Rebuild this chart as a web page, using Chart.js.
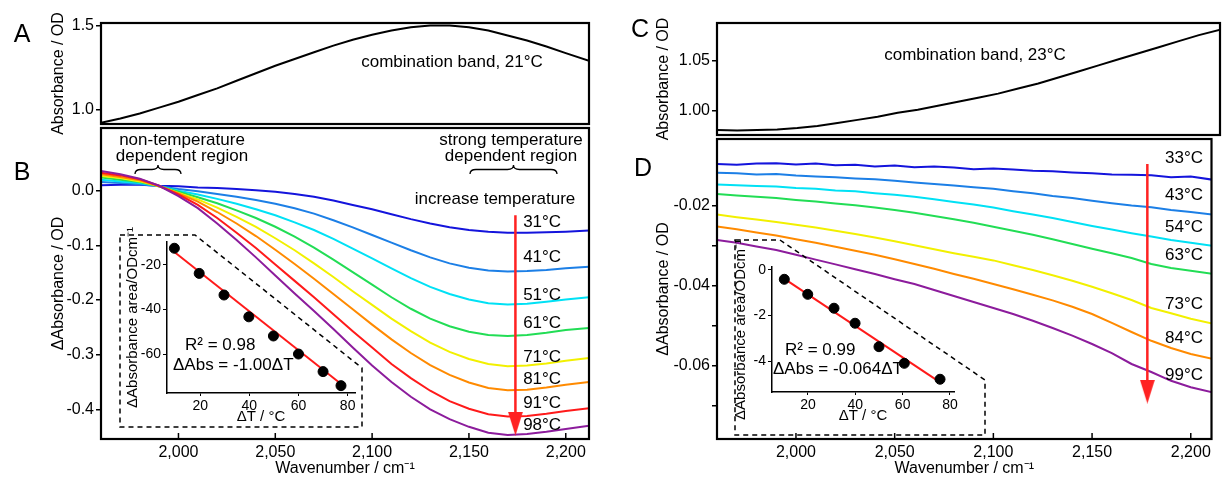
<!DOCTYPE html>
<html><head><meta charset="utf-8">
<script src="https://cdn.jsdelivr.net/npm/chart.js@4.4.1/dist/chart.umd.min.js"></script>
<style>
html,body{margin:0;padding:0;background:#fff;}
#wrap{position:relative;width:1224px;height:479px;overflow:hidden;background:#fff;}
#wrap canvas{position:absolute;left:0;top:0;}
</style></head><body><div id="wrap">
<canvas id="cA" width="1224" height="479"></canvas>
<canvas id="cB" width="1224" height="479"></canvas>
<canvas id="cC" width="1224" height="479"></canvas>
<canvas id="cD" width="1224" height="479"></canvas>
<canvas id="iB" width="1224" height="479"></canvas>
<canvas id="iD" width="1224" height="479"></canvas>
</div>
<script>
// ---------- data ----------
const wavenumber = [1960,1970,1980,1990,2000,2010,2020,2030,2040,2050,2060,2070,2080,2090,2100,2110,2120,2130,2140,2150,2160,2170,2180,2190,2200,2212];
const xTicks = [2000,2050,2100,2150,2200];

const absA_21C = [0.92,0.945,0.975,1.01,1.045,1.085,1.125,1.17,1.215,1.26,1.30,1.34,1.38,1.415,1.445,1.47,1.49,1.50,1.50,1.49,1.47,1.44,1.41,1.375,1.335,1.29];
const yTicksA = [1.0,1.5];

const tempsB = ['31°C','41°C','51°C','61°C','71°C','81°C','91°C','98°C'];
const dB31 = [0.010,0.011,0.011,0.009,0.008,0.006,0.005,0.003,0.001,-0.002,-0.006,-0.011,-0.018,-0.026,-0.034,-0.043,-0.052,-0.060,-0.067,-0.072,-0.075,-0.077,-0.077,-0.076,-0.075,-0.073];
const dB41 = [0.016,0.014,0.012,0.008,0.003,-0.001,-0.006,-0.011,-0.017,-0.024,-0.032,-0.042,-0.054,-0.067,-0.081,-0.095,-0.109,-0.122,-0.133,-0.141,-0.146,-0.148,-0.147,-0.145,-0.142,-0.139];
const dB51 = [0.020,0.017,0.014,0.008,0.000,-0.007,-0.015,-0.024,-0.034,-0.045,-0.058,-0.072,-0.088,-0.106,-0.124,-0.142,-0.160,-0.176,-0.189,-0.199,-0.206,-0.208,-0.207,-0.203,-0.199,-0.195];
const dB61 = [0.024,0.020,0.016,0.008,-0.002,-0.012,-0.023,-0.036,-0.050,-0.066,-0.084,-0.104,-0.126,-0.149,-0.172,-0.195,-0.216,-0.234,-0.248,-0.258,-0.264,-0.266,-0.264,-0.260,-0.255,-0.251];
const dB71 = [0.027,0.023,0.017,0.008,-0.004,-0.016,-0.031,-0.048,-0.066,-0.087,-0.109,-0.133,-0.158,-0.184,-0.209,-0.234,-0.257,-0.278,-0.295,-0.308,-0.317,-0.321,-0.320,-0.316,-0.311,-0.306];
const dB81 = [0.030,0.025,0.019,0.008,-0.005,-0.020,-0.039,-0.060,-0.083,-0.108,-0.134,-0.161,-0.189,-0.217,-0.245,-0.272,-0.297,-0.319,-0.337,-0.351,-0.361,-0.365,-0.364,-0.360,-0.355,-0.350];
const dB91 = [0.033,0.028,0.021,0.009,-0.007,-0.026,-0.050,-0.077,-0.105,-0.135,-0.165,-0.195,-0.226,-0.257,-0.287,-0.317,-0.343,-0.366,-0.385,-0.399,-0.409,-0.413,-0.412,-0.408,-0.403,-0.398];
const dB98 = [0.036,0.030,0.022,0.009,-0.010,-0.032,-0.060,-0.090,-0.122,-0.155,-0.188,-0.220,-0.253,-0.287,-0.320,-0.350,-0.377,-0.400,-0.418,-0.432,-0.443,-0.447,-0.445,-0.441,-0.436,-0.430];
const yTicksB = [-0.4,-0.3,-0.2,-0.1,0.0];
const labelYB = [-0.057,-0.121,-0.191,-0.242,-0.304,-0.345,-0.389,-0.429];

const absC_23C = [0.981,0.9805,0.981,0.9815,0.983,0.985,0.988,0.991,0.994,0.998,1.001,1.005,1.009,1.013,1.017,1.022,1.027,1.033,1.039,1.045,1.051,1.057,1.063,1.069,1.075,1.081];
const yTicksC = [1.00,1.05];

const tempsD = ['33°C','43°C','54°C','63°C','73°C','84°C','99°C'];
const dD33 = [-0.0095,-0.0097,-0.0094,-0.0093,-0.0096,-0.0094,-0.0098,-0.0097,-0.0101,-0.0099,-0.0103,-0.0101,-0.0104,-0.0108,-0.0106,-0.0109,-0.0112,-0.0113,-0.0116,-0.0118,-0.0121,-0.0122,-0.0123,-0.0128,-0.0126,-0.0135];
const dD43 = [-0.0117,-0.0118,-0.0121,-0.0120,-0.0124,-0.0126,-0.0128,-0.0131,-0.0133,-0.0137,-0.0141,-0.0145,-0.0149,-0.0153,-0.0157,-0.0163,-0.0168,-0.0175,-0.0180,-0.0187,-0.0193,-0.0199,-0.0203,-0.0210,-0.0215,-0.0222];
const dD54 = [-0.0146,-0.0148,-0.0150,-0.0151,-0.0155,-0.0157,-0.0161,-0.0163,-0.0168,-0.0172,-0.0177,-0.0183,-0.0190,-0.0196,-0.0204,-0.0213,-0.0221,-0.0230,-0.0240,-0.0250,-0.0259,-0.0268,-0.0276,-0.0285,-0.0292,-0.0300];
const dD63 = [-0.0170,-0.0174,-0.0177,-0.0180,-0.0185,-0.0189,-0.0194,-0.0198,-0.0204,-0.0210,-0.0217,-0.0225,-0.0233,-0.0242,-0.0252,-0.0262,-0.0272,-0.0283,-0.0295,-0.0307,-0.0318,-0.0330,-0.0345,-0.0355,-0.0362,-0.0370];
const dD73 = [-0.0221,-0.0228,-0.0234,-0.0240,-0.0247,-0.0254,-0.0262,-0.0270,-0.0279,-0.0288,-0.0298,-0.0308,-0.0318,-0.0327,-0.0336,-0.0348,-0.0360,-0.0373,-0.0387,-0.0402,-0.0418,-0.0435,-0.0455,-0.0468,-0.0482,-0.0495];
const dD84 = [-0.0251,-0.0258,-0.0266,-0.0274,-0.0283,-0.0292,-0.0302,-0.0312,-0.0322,-0.0333,-0.0345,-0.0357,-0.0370,-0.0382,-0.0395,-0.0408,-0.0422,-0.0436,-0.0452,-0.0470,-0.0492,-0.0515,-0.0537,-0.0555,-0.0570,-0.0583];
const dD99 = [-0.0285,-0.0292,-0.0301,-0.0310,-0.0322,-0.0334,-0.0346,-0.0358,-0.0370,-0.0383,-0.0395,-0.0410,-0.0425,-0.0440,-0.0455,-0.0470,-0.0487,-0.0505,-0.0524,-0.0545,-0.0568,-0.0595,-0.0615,-0.0637,-0.0653,-0.0667];
const yTicksD = [-0.07,-0.06,-0.05,-0.04,-0.03,-0.02];
const labelYD = [-0.0080,-0.01725,-0.02525,-0.03225,-0.0445,-0.0530,-0.06225];

const dT_B = [9.5,19.6,29.7,39.8,49.8,60.0,70.0,77.3];
const area_B = [-12.5,-23.8,-33.5,-43.3,-51.9,-60.0,-67.9,-74.2];
const fitB_dT = [8.6,78.5];
const fitB_area = [-13.4,-74.5];
const insetTicksB_x = [20,40,60,80];
const insetTicksB_y = [-60,-40,-20];

const dT_D = [10.0,19.9,31.0,39.9,50.0,60.7,75.8];
const area_D = [-0.41,-1.07,-1.68,-2.34,-3.37,-4.10,-4.80];
const fitD_dT = [9.6,76.5];
const fitD_area = [-0.36,-4.98];
const insetTicksD_x = [20,40,60,80];
const insetTicksD_y = [-4,-2,0];

// ---------- style ----------
const FONT = "'Liberation Sans', Arial, Helvetica, sans-serif";
Chart.defaults.font.family = FONT;
Chart.defaults.color = '#000';
const colB = ['#1414dc','#1c7fe6','#00e1f5','#22dd55','#f2f000','#ff8a00','#ff1a1a','#8c1c9c'];
const colD = ['#1414dc','#1c7fe6','#00e1f5','#22dd55','#f2f000','#ff8a00','#8c1c9c'];
const ARROW = '#ff2222';

// narrow arrowhead used as a point style (tip at bottom)
const head = document.createElement('canvas');
head.width = 15; head.height = 24;
(function(){ const g=head.getContext('2d'); g.fillStyle=ARROW; g.beginPath(); g.moveTo(0,0); g.lineTo(15,0); g.lineTo(7.5,24); g.closePath(); g.fill(); })();

const pts = (xs, ys) => ys.map((v,i)=>({x:xs[i], y:v}));
const fmtWn = v => String(v).replace(/(\d)(\d{3})$/,'$1,$2');

function framePlugin(inward){
  return {id:'frame', afterDraw(c){
    const a=c.chartArea, ctx=c.ctx; ctx.save();
    ctx.strokeStyle='#000'; ctx.lineWidth=2.2;
    ctx.strokeRect(a.left,a.top,a.right-a.left,a.bottom-a.top);
    if(inward){ const s=c.scales.x; ctx.lineWidth=1.5;
      s.ticks.forEach(t=>{const p=s.getPixelForValue(t.value); ctx.beginPath(); ctx.moveTo(p,a.bottom); ctx.lineTo(p,a.bottom-6); ctx.stroke();}); }
    ctx.restore();
  }};
}
function textPlugin(items, extra){
  return {id:'texts', afterDatasetsDraw(c){
    const ctx=c.ctx; ctx.save();
    items.forEach(it=>{
      let x=it.x, y=it.y;
      if(it.data){ x=c.scales.x.getPixelForValue(it.x); y=c.scales.y.getPixelForValue(it.y); }
      ctx.font=(it.size||16)+'px '+FONT; ctx.fillStyle=it.color||'#000';
      ctx.textAlign=it.align||'left'; ctx.textBaseline='middle';
      ctx.fillText(it.text,x,y);
    });
    if(extra) extra(ctx,c);
    ctx.restore();
  }};
}
function brace(ctx,x1,x2,yb,h){
  const m=(x1+x2)/2, q=Math.min(6,(x2-x1)/6), ym=yb-h*0.5;
  ctx.beginPath(); ctx.moveTo(x1,yb);
  ctx.quadraticCurveTo(x1,ym,x1+q,ym); ctx.lineTo(m-q,ym);
  ctx.quadraticCurveTo(m,ym,m,yb-h); ctx.quadraticCurveTo(m,ym,m+q,ym);
  ctx.lineTo(x2-q,ym); ctx.quadraticCurveTo(x2,ym,x2,yb); ctx.stroke();
}

function mainChart(id, o){
  return new Chart(document.getElementById(id), {
    type:'line',
    data:{datasets:o.datasets},
    options:{
      responsive:false, animation:false, devicePixelRatio:1,
      layout:{padding:o.padding},
      plugins:{legend:{display:false}, tooltip:{enabled:false}},
      elements:{point:{radius:0}, line:{tension:0}},
      scales:{
        x:{type:'linear', min:o.xMin, max:o.xMax, display:o.showX,
           afterBuildTicks:s=>{s.ticks=xTicks.map(v=>({value:v}));},
           afterFit:s=>{ if(o.showX) s.height=40; },
           grid:{display:false, drawTicks:false, tickLength:0}, border:{display:false},
           ticks:{font:{size:16}, padding:4, maxRotation:0, callback:fmtWn},
           title:{display:true, text:'Wavenumber / cm⁻¹', font:{size:16}, padding:{top:0,bottom:1}}},
        y:{type:'linear', min:o.yMin, max:o.yMax,
           afterBuildTicks:s=>{s.ticks=o.yTicks.map(v=>({value:v}));},
           afterFit:s=>{s.width=o.yWidth;},
           grid:{drawOnChartArea:false, drawTicks:true, tickLength:5, color:'#000', lineWidth:1.5},
           border:{display:false},
           ticks:{font:{size:16}, padding:2, callback:o.yFmt},
           title:{display:true, text:o.yTitle, font:{size:16}, padding:{top:0,bottom:0}}}
      }
    },
    plugins:[framePlugin(o.showX), textPlugin(o.texts||[], o.extra)]
  });
}

// ---------- Panel A ----------
mainChart('cA', {
  datasets:[{data:pts(wavenumber,absA_21C), borderColor:'#000', borderWidth:2, pointRadius:0}],
  xMin:1960, xMax:2212, yMin:0.912, yMax:1.515, yTicks:yTicksA, yFmt:v=>v.toFixed(1),
  yTitle:'Absorbance / OD', yWidth:52, showX:false,
  padding:{left:49, right:635, top:23, bottom:355},
  texts:[{text:'A', x:22, y:35, size:25, align:'center'},
         {text:'combination band, 21°C', x:452, y:62, size:17, align:'center'}]
});

// ---------- Panel B ----------
const seriesB = [dB31,dB41,dB51,dB61,dB71,dB81,dB91,dB98];
const dsB = seriesB.map((s,i)=>({data:pts(wavenumber,s), borderColor:colB[i], borderWidth:2, pointRadius:0, order:seriesB.length-i}));
dsB.push({data:[{x:2174,y:-0.045},{x:2174,y:-0.426}], borderColor:ARROW, borderWidth:2.5,
  pointRadius:[0,10], pointStyle:[false, head], order:-1});
mainChart('cB', {
  datasets:dsB,
  xMin:1960, xMax:2212, yMin:-0.4543, yMax:0.1147, yTicks:yTicksB, yFmt:v=>v.toFixed(1),
  yTitle:'ΔAbsorbance / OD', yWidth:52, showX:true,
  padding:{left:49, right:635, top:128, bottom:0},
  texts:[{text:'B', x:22, y:173, size:25, align:'center'},
         {text:'non-temperature', x:182, y:140, size:17, align:'center'},
         {text:'dependent region', x:182, y:156, size:17, align:'center'},
         {text:'strong temperature', x:511, y:140, size:17, align:'center'},
         {text:'dependent region', x:511, y:156, size:17, align:'center'},
         {text:'increase temperature', x:495, y:199, size:17, align:'center'}
        ].concat(tempsB.map((t,i)=>({text:t, data:true, x:2178, y:labelYB[i], size:17}))),
  extra:(ctx)=>{ ctx.strokeStyle='#000'; ctx.lineWidth=1.3; brace(ctx,135,181,174,9); brace(ctx,470,557,174,9); }
});

// ---------- Panel C ----------
mainChart('cC', {
  datasets:[{data:pts(wavenumber,absC_23C), borderColor:'#000', borderWidth:2, pointRadius:0}],
  xMin:1960, xMax:2210.5, yMin:0.976, yMax:1.087, yTicks:yTicksC, yFmt:v=>v.toFixed(2),
  yTitle:'Absorbance / OD', yWidth:63, showX:false,
  padding:{left:654, right:4, top:23, bottom:344},
  texts:[{text:'C', x:640, y:30, size:25, align:'center'},
         {text:'combination band, 23°C', x:975, y:55, size:17, align:'center'}]
});

// ---------- Panel D ----------
const seriesD = [dD33,dD43,dD54,dD63,dD73,dD84,dD99];
const dsD = seriesD.map((s,i)=>({data:pts(wavenumber,s), borderColor:colD[i], borderWidth:2, pointRadius:0, order:seriesD.length-i}));
dsD.push({data:[{x:2178,y:-0.0095},{x:2178,y:-0.0664}], borderColor:ARROW, borderWidth:2.5,
  pointRadius:[0,10], pointStyle:[false, head], order:-1});
mainChart('cD', {
  datasets:dsD,
  xMin:1960, xMax:2210.5, yMin:-0.07825, yMax:-0.00325, yTicks:yTicksD,
  yFmt:v=>(Math.round(v*100)%2===0 ? v.toFixed(2) : ''),
  yTitle:'ΔAbsorbance / OD', yWidth:63, showX:true,
  padding:{left:654, right:4, top:139, bottom:0},
  texts:[{text:'D', x:643, y:169, size:25, align:'center'}]
        .concat(tempsD.map((t,i)=>({text:t, data:true, x:2187, y:labelYD[i], size:17})))
});

// ---------- Insets ----------
function insetChart(id, o){
  return new Chart(document.getElementById(id), {
    type:'line',
    data:{datasets:[
      {data:pts(o.px,o.py), showLine:false, pointRadius:5, pointBackgroundColor:'#000', pointBorderColor:'#000', borderColor:'#000'},
      {data:pts(o.lx,o.ly), borderColor:'#ff1a1a', borderWidth:2, pointRadius:0}
    ]},
    options:{
      responsive:false, animation:false, devicePixelRatio:1,
      layout:{padding:o.padding},
      plugins:{legend:{display:false}, tooltip:{enabled:false}},
      scales:{
        x:{type:'linear', min:o.xMin, max:o.xMax,
           afterBuildTicks:s=>{s.ticks=o.xTicks.map(v=>({value:v}));},
           afterFit:s=>{s.height=33;},
           grid:{drawOnChartArea:false, drawTicks:true, tickLength:3, color:'#000', lineWidth:1},
           border:{display:true, color:'#000', width:1.5},
           ticks:{font:{size:14}, padding:2, maxRotation:0},
           title:{display:true, text:'ΔT / °C', font:{size:15}, padding:{top:0,bottom:0}}},
        y:{type:'linear', min:o.yMin, max:o.yMax,
           afterBuildTicks:s=>{s.ticks=o.yTicks.map(v=>({value:v}));},
           afterFit:s=>{s.width=o.yWidth;},
           grid:{drawOnChartArea:false, drawTicks:true, tickLength:4, color:'#000', lineWidth:1},
           border:{display:true, color:'#000', width:1.5},
           ticks:{font:{size:14}, padding:2},
           title:{display:true, text:'ΔAbsorbance area/ODcm⁻¹', font:{size:15}, padding:{top:0,bottom:0}}}
      }
    },
    plugins:[
      {id:'callout', beforeDraw(c){ const ctx=c.ctx; ctx.save(); ctx.strokeStyle='#000'; ctx.lineWidth=1.5; ctx.setLineDash([5,4]);
        ctx.beginPath(); o.box.forEach((p,i)=> i?ctx.lineTo(p[0],p[1]):ctx.moveTo(p[0],p[1])); ctx.closePath(); ctx.stroke(); ctx.restore(); }},
      textPlugin(o.texts)
    ]
  });
}
insetChart('iB', {
  px:dT_B, py:area_B, lx:fitB_dT, ly:fitB_area,
  xMin:6.5, xMax:83, yMin:-77.5, yMax:-9.7, xTicks:insetTicksB_x, yTicks:insetTicksB_y,
  yWidth:43, padding:{left:124, right:869, top:242, bottom:53},
  box:[[120,235],[195,235],[362,368],[362,427],[120,427]],
  texts:[{text:'R² = 0.98', x:185, y:345, size:17},{text:'ΔAbs = -1.00ΔT', x:173, y:365, size:17}]
});
insetChart('iD', {
  px:dT_D, py:area_D, lx:fitD_dT, ly:fitD_area,
  xMin:4.8, xMax:81.7, yMin:-5.36, yMax:0.13, xTicks:insetTicksD_x, yTicks:insetTicksD_y,
  yWidth:40, padding:{left:732, right:270, top:267, bottom:54},
  box:[[735,240],[780,240],[985,380],[985,435],[735,435]],
  texts:[{text:'R² = 0.99', x:785, y:350, size:17},{text:'ΔAbs = -0.064ΔT', x:773, y:369, size:17}]
});
</script></body></html>
